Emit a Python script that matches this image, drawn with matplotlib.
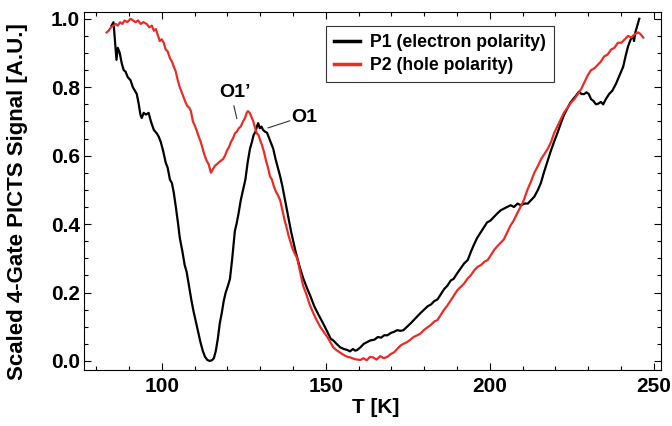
import matplotlib
matplotlib.use("Agg")
from matplotlib import pyplot as plt
from matplotlib.ticker import MultipleLocator

plt.rcParams['font.family'] = ['Liberation Sans', 'DejaVu Sans']
plt.rcParams['font.weight'] = 'bold'

# P1 (electron polarity): temperature [K], scaled signal
t_p1 = [84.7, 85.3, 85.8, 86.2, 86.6, 87.2, 87.8, 88.4, 89.0, 89.6, 90.5, 91.2,
        91.8, 92.4, 93.0, 93.5, 93.9, 94.5, 95.2, 96.0, 96.7, 97.6, 98.5, 99.1,
        99.7, 100.4, 101.2, 101.8, 102.5, 103.1, 103.7, 104.3, 105.0, 105.5,
        106.3, 107.0, 107.6, 108.3, 109.0, 109.7, 110.4, 111.1, 111.8, 112.5,
        113.2, 113.9, 114.6, 115.3, 115.9, 116.5, 117.1, 117.7, 118.3, 118.9,
        119.5, 120.2, 120.8, 121.5, 122.0, 122.3, 122.8, 123.4, 124.1, 124.8,
        125.5, 126.2, 126.9, 127.5, 128.0, 128.6, 129.0, 129.4, 129.9, 130.4,
        130.9, 131.5, 132.1, 132.8, 133.4, 134.0, 134.7, 135.4, 136.1, 136.8,
        137.5, 138.2, 138.8, 139.4, 140.1, 140.8, 141.5, 142.2, 143.2, 144.2,
        145.3, 146.5, 147.8, 149.2, 150.5, 151.5, 152.3, 153.3, 154.4, 155.5,
        156.6, 157.4, 158.3, 159.0, 159.6, 160.6, 161.6, 162.6, 163.6, 164.8,
        165.9, 166.9, 167.8, 168.8, 169.9, 170.8, 171.8, 172.8, 173.7, 174.8,
        175.9, 176.9, 177.9, 178.9, 180.0, 181.1, 182.1, 183.1, 184.1, 185.1,
        186.1, 187.1, 188.1, 189.0, 190.0, 191.1, 192.2, 193.3, 194.3, 195.2,
        196.2, 197.2, 198.2, 199.2, 200.2, 201.2, 202.2, 203.3, 204.3, 205.3,
        206.4, 207.4, 208.5, 209.5, 210.6, 211.6, 212.6, 213.6, 214.7, 215.6,
        216.5, 217.5, 218.5, 219.6, 220.6, 221.7, 222.7, 223.8, 224.6, 225.4,
        226.3, 227.2, 228.0, 228.8, 229.5, 230.2, 230.9, 231.6, 232.4, 233.1,
        233.9, 234.6, 235.4, 236.4, 237.4, 238.5, 239.6, 240.7, 241.4, 242.2,
        243.0, 243.7, 244.0, 244.4, 245.0, 245.6]
s_p1 = [0.98, 0.99, 0.93, 0.88, 0.915, 0.90, 0.87, 0.85, 0.845, 0.83, 0.82, 0.80,
        0.79, 0.78, 0.75, 0.72, 0.71, 0.725, 0.72, 0.725, 0.70, 0.675, 0.665, 0.655,
        0.64, 0.615, 0.58, 0.565, 0.53, 0.52, 0.49, 0.45, 0.40, 0.36,
        0.32, 0.28, 0.26, 0.22, 0.18, 0.145, 0.115, 0.085, 0.055, 0.03,
        0.012, 0.003, 0.0, 0.002, 0.008, 0.03, 0.065, 0.11, 0.14, 0.175,
        0.20, 0.22, 0.24, 0.30, 0.35, 0.38, 0.40, 0.43, 0.47, 0.50,
        0.53, 0.58, 0.62, 0.64, 0.66, 0.67, 0.685, 0.695, 0.68, 0.685,
        0.675, 0.67, 0.667, 0.65, 0.635, 0.62, 0.59, 0.565, 0.54, 0.51,
        0.475, 0.44, 0.41, 0.38, 0.35, 0.32, 0.295, 0.27, 0.24, 0.215,
        0.19, 0.16, 0.135, 0.11, 0.085, 0.065, 0.06, 0.05, 0.04, 0.035,
        0.032, 0.028, 0.035, 0.03, 0.032, 0.04, 0.05, 0.055, 0.06, 0.062,
        0.07, 0.068, 0.075, 0.075, 0.082, 0.085, 0.09, 0.088, 0.09, 0.10,
        0.11, 0.12, 0.13, 0.14, 0.15, 0.16, 0.165, 0.175, 0.18, 0.195,
        0.21, 0.22, 0.235, 0.24, 0.255, 0.27, 0.285, 0.295, 0.32, 0.34,
        0.36, 0.375, 0.39, 0.405, 0.41, 0.42, 0.43, 0.44, 0.445, 0.45,
        0.455, 0.45, 0.46, 0.455, 0.46, 0.46, 0.47, 0.48, 0.50, 0.52,
        0.55, 0.58, 0.61, 0.64, 0.665, 0.695, 0.72, 0.74, 0.755, 0.765,
        0.775, 0.787, 0.78, 0.78, 0.785, 0.78, 0.765, 0.76, 0.75, 0.752,
        0.757, 0.75, 0.765, 0.78, 0.79, 0.81, 0.835, 0.86, 0.89, 0.92,
        0.94, 0.95, 0.935, 0.96, 0.98, 1.0]

# P2 (hole polarity)
t_p2 = [83.2, 83.8, 84.5, 85.3, 86.0, 86.6, 87.3, 88.0, 88.7, 89.5, 90.5, 91.3,
        92.0, 92.8, 93.6, 94.4, 95.4, 96.2, 97.0, 97.6, 98.2, 98.9, 99.4, 100.0,
        100.6, 101.2, 101.8, 102.5, 103.1, 103.7, 104.3, 104.9, 105.5, 106.1,
        106.7, 107.3, 107.8, 108.4, 108.9, 109.5, 110.0, 110.6, 111.3, 111.9,
        112.5, 113.1, 113.7, 114.3, 115.0, 115.6, 116.2, 116.8, 117.4, 118.0,
        118.7, 119.3, 119.9, 120.5, 121.1, 121.7, 122.3, 122.9, 123.5, 124.1,
        124.8, 125.4, 125.9, 126.3, 126.8, 127.3, 127.9, 128.5, 129.0, 129.5,
        130.0, 130.6, 131.2, 131.8, 132.4, 133.0, 133.6, 134.2, 134.8, 135.4,
        136.1, 136.8, 137.5, 138.2, 138.7, 139.2, 139.8, 140.5, 141.3, 142.2,
        143.1, 144.1, 145.1, 146.2, 147.2, 148.3, 149.4, 150.5, 151.4, 152.3,
        153.2, 154.3, 155.4, 156.6, 157.6, 158.6, 159.6, 160.6, 161.5, 162.5,
        163.5, 164.5, 165.5, 166.6, 167.7, 168.8, 169.8, 170.8, 171.8, 172.8,
        173.7, 174.8, 175.8, 176.8, 177.9, 178.9, 179.9, 181.0, 182.0, 183.1,
        184.1, 185.1, 186.1, 187.1, 188.0, 189.0, 190.0, 191.0, 192.1, 193.2,
        194.2, 195.3, 196.3, 197.3, 198.4, 199.4, 200.4, 201.4, 202.3, 203.3,
        204.3, 205.3, 206.3, 207.3, 208.3, 209.4, 210.4, 211.5, 212.6, 213.6,
        214.7, 215.7, 216.7, 217.7, 218.7, 219.6, 220.6, 221.6, 222.6, 223.7,
        224.8, 225.8, 226.9, 227.9, 228.9, 229.9, 230.9, 231.9, 232.9, 233.9,
        234.9, 235.9, 237.0, 238.0, 239.1, 240.1, 241.2, 242.2, 243.2, 244.2,
        245.3, 246.0, 246.8]
s_p2 = [0.96, 0.965, 0.975, 0.98, 0.985, 0.98, 0.99, 0.985, 0.995, 0.99, 1.0, 0.995,
        0.99, 0.995, 0.985, 0.99, 0.985, 0.975, 0.98, 0.965, 0.97, 0.95, 0.935, 0.94,
        0.93, 0.91, 0.905, 0.885, 0.875, 0.86, 0.845, 0.82, 0.80, 0.785,
        0.77, 0.755, 0.745, 0.74, 0.73, 0.70, 0.69, 0.675, 0.655, 0.64,
        0.62, 0.60, 0.585, 0.575, 0.55, 0.56, 0.57, 0.575, 0.58, 0.585,
        0.59, 0.60, 0.615, 0.625, 0.64, 0.65, 0.665, 0.67, 0.68, 0.685,
        0.70, 0.71, 0.725, 0.73, 0.725, 0.715, 0.70, 0.68, 0.665, 0.66,
        0.645, 0.63, 0.61, 0.585, 0.565, 0.54, 0.53, 0.51, 0.495, 0.485,
        0.47, 0.44, 0.41, 0.385, 0.365, 0.35, 0.33, 0.315, 0.30, 0.26,
        0.22, 0.195, 0.165, 0.14, 0.12, 0.10, 0.085, 0.07, 0.055, 0.04,
        0.032, 0.025, 0.018, 0.012, 0.01, 0.006, 0.004, 0.003, 0.008, 0.002,
        0.012, 0.01, 0.004, 0.014, 0.008, 0.012, 0.02, 0.025, 0.035, 0.045,
        0.05, 0.055, 0.062, 0.07, 0.075, 0.08, 0.09, 0.098, 0.105, 0.115,
        0.12, 0.135, 0.15, 0.162, 0.175, 0.19, 0.205, 0.215, 0.225, 0.24,
        0.25, 0.265, 0.275, 0.28, 0.29, 0.295, 0.31, 0.325, 0.335, 0.345,
        0.355, 0.375, 0.395, 0.41, 0.43, 0.45, 0.47, 0.50, 0.525, 0.55,
        0.57, 0.59, 0.605, 0.62, 0.64, 0.665, 0.685, 0.705, 0.725, 0.74,
        0.755, 0.765, 0.78, 0.795, 0.815, 0.835, 0.85, 0.855, 0.865, 0.875,
        0.89, 0.895, 0.91, 0.915, 0.93, 0.93, 0.94, 0.95, 0.945, 0.955,
        0.96, 0.955, 0.945]

fig = plt.figure(figsize=(6.72, 4.26), dpi=100)
ax = fig.add_axes([0.125, 0.131, 0.859, 0.841])

ax.plot(t_p1, s_p1, color='black', lw=1.6, label='P1 (electron polarity)')
ax.plot(t_p2, s_p2, color='#ee2a24', lw=1.6, label='P2 (hole polarity)')

ax.set_xlim(76.3, 252.3)
ax.set_ylim(-0.027, 1.02)
ax.xaxis.set_major_locator(MultipleLocator(50))
ax.xaxis.set_minor_locator(MultipleLocator(10))
ax.yaxis.set_major_locator(MultipleLocator(0.2))
ax.yaxis.set_minor_locator(MultipleLocator(0.05))
ax.yaxis.set_major_formatter(plt.FuncFormatter(lambda v, p: f'{v:.1f}'))
ax.tick_params(which='both', direction='in', top=True, right=True,
               labelsize=15, width=0.8)
ax.tick_params(which='major', length=5)
ax.tick_params(which='minor', length=3)
ax.tick_params(axis='x', pad=5)
ax.tick_params(axis='y', pad=3)
for sp in ax.spines.values():
    sp.set_linewidth(0.8)

ax.set_xlabel('T [K]', fontsize=15, fontweight='bold')
ax.xaxis.set_label_coords(0.506, -0.078)
ax.set_ylabel('Scaled 4-Gate PICTS Signal [A.U.]', fontsize=16,
              fontweight='bold')
ax.yaxis.set_label_coords(-0.097, 0.47)

# peak labels with thin leader lines
ax.annotate('', xy=(122.9, 0.708), xytext=(122.0, 0.746),
            arrowprops=dict(arrowstyle='-', color='#333333', lw=0.8,
                            shrinkA=0, shrinkB=0))
ax.text(122.3, 0.785, "O1\u2019", fontsize=14, fontweight='bold',
        ha='center', va='center')
ax.annotate('', xy=(132.4, 0.681), xytext=(139.1, 0.702),
            arrowprops=dict(arrowstyle='-', color='#333333', lw=0.8,
                            shrinkA=0, shrinkB=0))
ax.text(143.6, 0.712, "O1", fontsize=14, fontweight='bold',
        ha='center', va='center')

leg = ax.legend(loc='upper left', bbox_to_anchor=(0.419, 0.961), fontsize=12.7,
                frameon=True, fancybox=False, handlelength=1.5,
                handletextpad=0.55, borderpad=0.45, labelspacing=0.35,
                borderaxespad=0)
leg.get_frame().set_edgecolor('black')
leg.get_frame().set_linewidth(0.8)
for line in leg.get_lines():
    line.set_linewidth(2.5)

fig.savefig('out.png', dpi=100)
